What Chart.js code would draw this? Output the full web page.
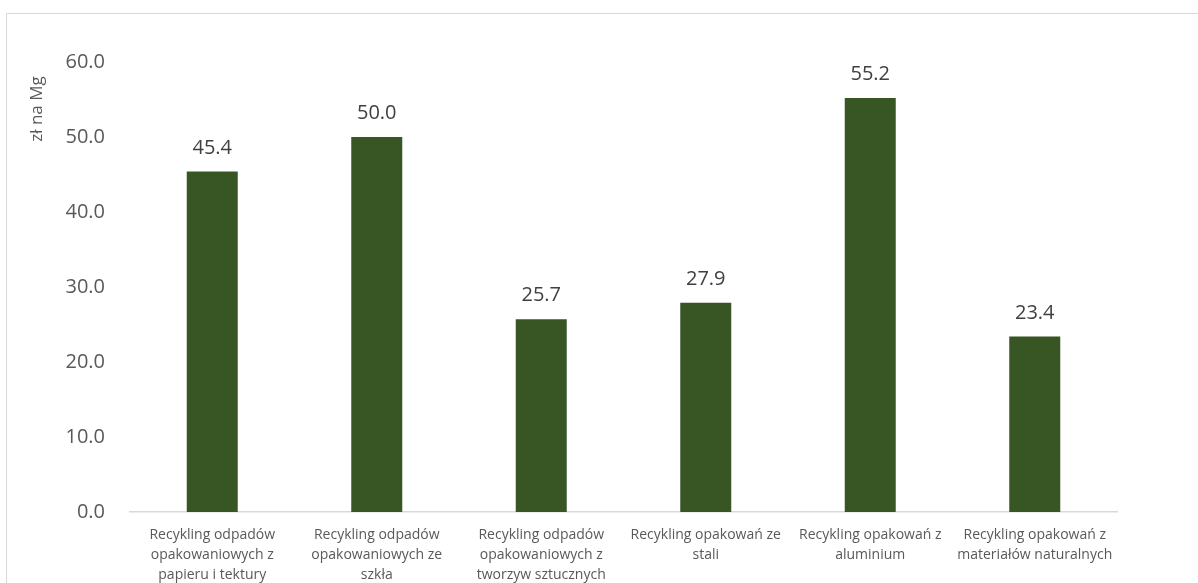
<!DOCTYPE html>
<html>
<head>
<meta charset="utf-8">
<script src="https://cdn.jsdelivr.net/npm/chart.js@4/dist/chart.umd.min.js"></script>
<style>
  html, body { margin: 0; padding: 0; background: #fff; overflow: hidden; }
  #box {
    position: absolute; left: 6px; top: 13px;
    width: 1200px; height: 600px;
    border: 1px solid #d9d9d9; box-sizing: border-box;
  }
  #wrap { position: absolute; left: 0; top: 0; width: 1191px; height: 569px; }
</style>
</head>
<body>
<div id="box"><div id="wrap"><canvas id="koszty"></canvas></div></div>
<script>
// kategorie i wartosci (zł na Mg)
const kategorie = [
  ['Recykling odpadów', 'opakowaniowych z', 'papieru i tektury'],
  ['Recykling odpadów', 'opakowaniowych ze', 'szkła'],
  ['Recykling odpadów', 'opakowaniowych z', 'tworzyw sztucznych'],
  ['Recykling opakowań ze', 'stali'],
  ['Recykling opakowań z', 'aluminium'],
  ['Recykling opakowań z', 'materiałów naturalnych']
]
const wartosci = [45.4, 50.0, 25.7, 27.9, 55.2, 23.4]
const tytulOsi = 'zł na Mg'

const etykiety = {
  id: 'etykiety',
  afterDatasetsDraw(chart) {
    const ctx = chart.ctx
    const meta = chart.getDatasetMeta(0)
    ctx.save()
    ctx.font = '20px "Open Sans"'
    ctx.fillStyle = '#404040'
    ctx.textAlign = 'center'
    ctx.textBaseline = 'alphabetic'
    meta.data.forEach((bar, i) => {
      ctx.fillText(wartosci[i].toFixed(1), bar.x, bar.y - 18)
    })
    // tytul osi Y
    ctx.translate(30, 95)
    ctx.rotate(-Math.PI / 2)
    ctx.font = '17px "Open Sans"'
    ctx.fillStyle = '#595959'
    ctx.textBaseline = 'middle'
    ctx.fillText(tytulOsi, 0, 0)
    ctx.restore()
  }
}

const koszty = new Chart(
  document.getElementById('koszty'),
  {
    type: 'bar',
    data: {
      labels: kategorie,
      datasets: [{
        label: tytulOsi,
        data: wartosci,
        backgroundColor: '#375623',
        borderWidth: 0,
        barPercentage: 0.62,
        categoryPercentage: 0.5
      }]
    },
    options: {
      responsive: true,
      maintainAspectRatio: false,
      animation: false,
      layout: { padding: { top: 48, right: 81, left: 0, bottom: 0 } },
      plugins: {
        legend: { display: false },
        tooltip: { enabled: false }
      },
      scales: {
        x: {
          grid: { display: false },
          border: { color: '#d9d9d9', width: 1.5 },
          ticks: {
            color: '#595959',
            font: { family: 'Open Sans', size: 14, lineHeight: '20px' },
            maxRotation: 0,
            autoSkip: false,
            padding: 5
          },
          afterFit(scale) { scale.height = 71 }
        },
        y: {
          min: 0,
          max: 60,
          grid: { display: false },
          border: { display: false },
          ticks: {
            stepSize: 10,
            color: '#595959',
            padding: 17,
            font: { family: 'Open Sans', size: 20 },
            callback: v => v.toFixed(1)
          },
          afterFit(scale) { scale.width = 123 }
        }
      }
    },
    plugins: [etykiety]
  }
)
</script>
</body>
</html>
